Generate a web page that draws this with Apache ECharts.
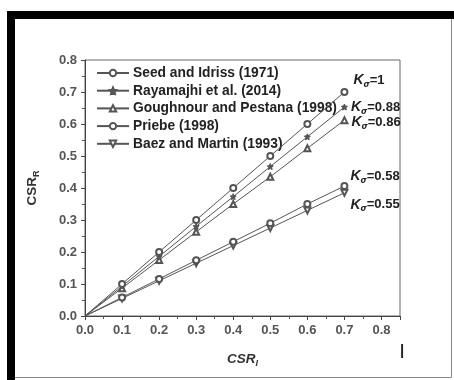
<!DOCTYPE html>
<html>
<head>
<meta charset="utf-8">
<script src="https://cdn.jsdelivr.net/npm/echarts@6/dist/echarts.min.js"></script>
<style>
html,body{margin:0;padding:0;background:#fff;}
#c{width:454px;height:380px;}
</style>
</head>
<body>
<div id="c"></div>
<script>
var csrI = [0, 0.1, 0.2, 0.3, 0.4, 0.5, 0.6, 0.7];
var seedIdriss = [0, 0.1, 0.2, 0.3, 0.4, 0.5, 0.6, 0.7];
var rayamajhi = [0, 0.093, 0.186, 0.28, 0.373, 0.467, 0.56, 0.653];
var goughnour = [0, 0.087, 0.175, 0.263, 0.35, 0.435, 0.524, 0.612];
var priebe = [0, 0.058, 0.116, 0.174, 0.232, 0.29, 0.35, 0.406];
var baez = [0, 0.055, 0.11, 0.165, 0.22, 0.275, 0.33, 0.385];
var seriesNames = ['Seed and Idriss (1971)', 'Rayamajhi et al. (2014)', 'Goughnour and Pestana (1998)', 'Priebe (1998)', 'Baez and Martin (1993)'];
var kLabels = ['1', '0.88', '0.86', '0.58', '0.55'];
var xTicks = [0, 0.1, 0.2, 0.3, 0.4, 0.5, 0.6, 0.7, 0.8];

var star = 'path://M0,-10 L2.9,-4 L9.5,-3.1 L4.8,1.5 L5.9,8.1 L0,5 L-5.9,8.1 L-4.8,1.5 L-9.5,-3.1 L-2.9,-4 Z';
var symbols = ['emptyCircle', star, 'emptyTriangle', 'emptyCircle', 'emptyTriangle'];
var rotates = [0, 0, 0, 0, 180];
var sizes = [6, 6, 6, 6, 6];
var labelOffsets = [[0, -12], [-2, 0], [-2, 2], [-3, -10], [-3, 12]];
var allY = [seedIdriss, rayamajhi, goughnour, priebe, baez];
var col = '#555';

var rich = {
  k: {fontFamily: 'Liberation Sans', fontStyle: 'italic', fontWeight: 'bold', fontSize: 14, color: '#222'},
  s: {fontFamily: 'DejaVu Sans', fontStyle: 'italic', fontWeight: 'bold', fontSize: 8, color: '#222', padding: [9, 0, 0, 0]},
  t: {fontFamily: 'Liberation Sans', fontWeight: 'bold', fontSize: 13, color: '#222'}
};

var series = allY.map(function (ys, si) {
  return {
    name: seriesNames[si],
    type: 'line',
    symbol: symbols[si],
    symbolRotate: rotates[si],
    symbolSize: sizes[si],
    showAllSymbol: true,
    lineStyle: {color: col, width: 1},
    itemStyle: {color: col, borderColor: col, borderWidth: 1},
    data: ys.map(function (y, i) {
      var d = {value: [csrI[i], y]};
      if (i === 0) { d.symbol = 'none'; }
      if (i === ys.length - 1) {
        d.label = {
          show: true,
          position: 'right',
          offset: labelOffsets[si],
          formatter: '{k|K}{s|σ}{t|=' + kLabels[si] + '}',
          rich: rich
        };
      }
      return d;
    }),
    z: 5 - si
  };
});

var tickFont = {fontFamily: 'Liberation Sans', fontWeight: 'bold', fontSize: 13, color: '#555'};

var chart = echarts.init(document.getElementById('c'), null, {renderer: 'canvas'});
chart.setOption({
  animation: false,
  backgroundColor: '#fff',
  grid: {left: 85, right: 54, top: 60, bottom: 64, show: true, borderColor: '#666', borderWidth: 1, backgroundColor: 'transparent'},
  legend: {
    orient: 'vertical',
    left: 91,
    top: 61,
    itemGap: 3.7,
    itemWidth: 32,
    itemHeight: 8,
    textStyle: {fontFamily: 'Liberation Sans', fontWeight: 'bold', fontSize: 13.8, color: '#222', padding: [0, 0, 0, -1]},
    data: seriesNames.map(function (n) { return {name: n}; })
  },
  xAxis: {
    type: 'value',
    min: 0,
    max: 0.85,
    interval: 0.1,
    name: '{a|CSR}{b|I}',
    nameLocation: 'middle',
    nameGap: 34,
    nameTextStyle: {
      rich: {
        a: {fontFamily: 'Liberation Sans', fontStyle: 'italic', fontWeight: 'bold', fontSize: 13.5, color: '#333'},
        b: {fontFamily: 'Liberation Sans', fontStyle: 'italic', fontWeight: 'bold', fontSize: 9, color: '#333', padding: [9, 0, 0, 0]}
      }
    },
    axisLine: {show: true, onZero: false, lineStyle: {color: '#444', width: 1}},
    axisTick: {show: true, inside: false, length: 4, lineStyle: {color: '#444'}},
    minorTick: {show: true, splitNumber: 2, length: 3, lineStyle: {color: '#555'}},
    splitLine: {show: false},
    axisLabel: Object.assign({
      margin: 8,
      showMaxLabel: false,
      formatter: function (v) {
        var r = Math.round(v * 10) / 10;
        if (Math.abs(r - v) > 1e-6 || xTicks.indexOf(r) < 0) return '';
        return r.toFixed(1);
      }
    }, tickFont)
  },
  yAxis: {
    type: 'value',
    min: 0,
    max: 0.8,
    interval: 0.1,
    name: '{a|CSR}{b|R}',
    nameLocation: 'middle',
    nameGap: 44,
    nameRotate: 90,
    nameTextStyle: {
      rich: {
        a: {fontFamily: 'Liberation Sans', fontWeight: 'bold', fontSize: 13.5, color: '#333'},
        b: {fontFamily: 'Liberation Sans', fontWeight: 'bold', fontSize: 9, color: '#333', padding: [9, 0, 0, 0]}
      }
    },
    axisLine: {show: true, onZero: false, lineStyle: {color: '#444', width: 1}},
    axisTick: {show: true, inside: false, length: 4, lineStyle: {color: '#444'}},
    minorTick: {show: true, splitNumber: 2, length: 3, lineStyle: {color: '#555'}},
    splitLine: {show: false},
    axisLabel: Object.assign({
      margin: 8,
      formatter: function (v) { return v.toFixed(1); }
    }, tickFont)
  },
  series: series,
  graphic: [
    {type: 'rect', shape: {x: 7.5, y: 11.5, width: 444, height: 366}, style: {fill: 'none', stroke: '#888', lineWidth: 1}, silent: true},
    {type: 'rect', shape: {x: 7, y: 11, width: 447, height: 8}, style: {fill: '#000'}, silent: true},
    {type: 'rect', shape: {x: 7, y: 11, width: 8, height: 369}, style: {fill: '#000'}, silent: true},
    {type: 'text', left: 400, top: 343, style: {text: '|', font: 'bold 15px "Liberation Sans"', fill: '#222'}, silent: true}
  ]
});
</script>
</body>
</html>
